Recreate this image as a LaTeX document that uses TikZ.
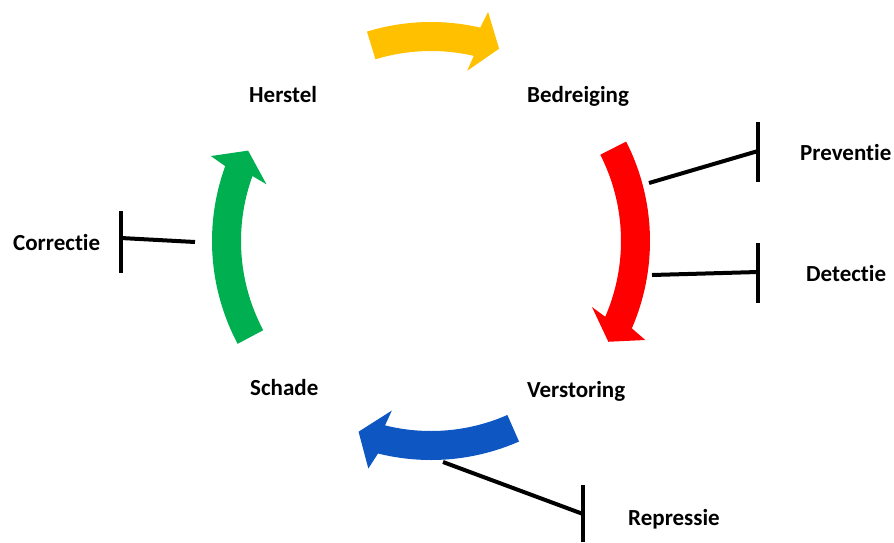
\documentclass[tikz,border=0pt]{standalone}
\usepackage{fontspec}
\setmainfont{Carlito}[RawFeature={-liga;-clig;-calt;-dlig}]
\definecolor{cycYellow}{RGB}{255,192,0}
\definecolor{cycRed}{RGB}{255,0,0}
\definecolor{cycBlue}{RGB}{14,86,194}
\definecolor{cycGreen}{RGB}{0,176,80}
% curved arrow on the ring: colour, start angle, head base angle,
% inner barb angle, outer barb angle, tip angle
\newcommand\ringarrow[6]{%
  \fill[#1, shift={(431,-241)}]
    (#2:190) arc[start angle=#2, end angle=#3, radius=190]
    -- (#4:174) -- (#6:204) -- (#5:236)
    -- (#3:219) arc[start angle=#3, end angle=#2, radius=219] -- cycle;}
\tikzset{
  lbl/.style={font=\fontsize{23}{28}\selectfont\bfseries, inner sep=0pt, anchor=base west},
  inhib/.style={line width=4pt, black},
}
\begin{document}
\begin{tikzpicture}[x=1pt, y=1pt]
\useasboundingbox (0,0) rectangle (894,-542);

% the four stages of the cycle
\ringarrow{cycYellow}{107}{77}{78}{76}{70.5}
\ringarrow{cycRed}{27}{-23.5}{-22.3}{-24.8}{-29.6}
\ringarrow{cycBlue}{-66.3}{-104}{-103}{-105.4}{-110.8}
\ringarrow{cycGreen}{208}{160}{161}{158.9}{153.7}

% labels
\node[lbl] (herstel) at (249,-102) {Herstel};
\node[lbl] (bedreiging) at (527,-102) {Bedreiging};
\node[lbl] (schade) at (250,-395) {Schade};
\node[lbl] (verstoring) at (527,-397) {Verstoring};
\node[lbl] (preventie) at (800,-160) {Preventie};
\node[lbl] (detectie) at (806,-281) {Detectie};
\node[lbl] (correctie) at (13,-250) {Correctie};
\node[lbl] (repressie) at (628,-525) {Repressie};

% measures blocking the arrows
\coordinate (prevA) at (649,-183);
\coordinate (prevB) at (758,-151);
\coordinate (prevT) at (758,-122);
\coordinate (prevD) at (758,-182);
\draw[inhib] (prevA) -- (prevB);
\draw[inhib] (prevT) -- (prevD);

\coordinate (detA) at (652,-275);
\coordinate (detB) at (758,-272);
\coordinate (detT) at (758,-243);
\coordinate (detD) at (758,-303);
\draw[inhib] (detA) -- (detB);
\draw[inhib] (detT) -- (detD);

\coordinate (corA) at (195,-242);
\coordinate (corB) at (121,-238);
\coordinate (corT) at (121,-211);
\coordinate (corD) at (121,-273);
\draw[inhib] (corA) -- (corB);
\draw[inhib] (corT) -- (corD);

\coordinate (repA) at (443,-462);
\coordinate (repB) at (583,-514);
\coordinate (repT) at (583,-485);
\coordinate (repD) at (583,-542);
\draw[inhib] (repA) -- (repB);
\draw[inhib] (repT) -- (repD);
\end{tikzpicture}
\end{document}
